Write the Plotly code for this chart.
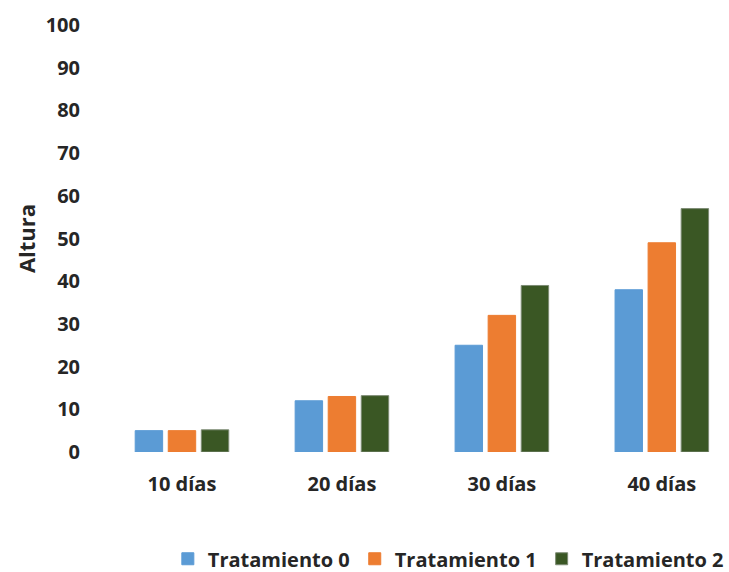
import plotly.graph_objects as go

# Plant height by days after planting, for three treatments
dias = ["10 días", "20 días", "30 días", "40 días"]
tratamiento_0 = [5, 12, 25, 38]
tratamiento_1 = [5, 13, 32, 49]
tratamiento_2 = [5.2, 13.2, 39, 57]
y_ticks = list(range(0, 101, 10))

series = [
    ("Tratamiento 0", tratamiento_0, "#5B9BD5", "#5B9BD5"),
    ("Tratamiento 1", tratamiento_1, "#ED7D31", "#ED7D31"),
    ("Tratamiento 2", tratamiento_2, "#3A5724", "#7d8b74"),
]

font_family = "Open Sans, Noto Sans, Arial, sans-serif"
text_color = "#262626"

fig = go.Figure()
for name, values, color, edge in series:
    fig.add_trace(go.Bar(
        x=dias, y=values, name=name,
        marker=dict(color=color, line=dict(color=edge, width=1)),
    ))

fig.update_layout(
    width=729, height=572,
    margin=dict(l=102, r=0, t=25, b=120, autoexpand=False),
    paper_bgcolor="white", plot_bgcolor="white",
    barmode="group", bargap=0.38, bargroupgap=0.17,
    font=dict(family=font_family, size=20, color=text_color),
    showlegend=True,
    legend=dict(
        orientation="h", x=0.105, xanchor="left", y=-0.25, yanchor="middle",
        font=dict(size=20, color=text_color, weight="bold"),
        traceorder="normal",
    ),
)

fig.update_xaxes(
    range=[-0.5, 3.42], showgrid=False, showline=False, zeroline=False,
    ticks="", ticklabelstandoff=18,
    tickfont=dict(size=20, color=text_color, weight="bold"),
)
fig.update_yaxes(
    range=[0, 100], tickvals=y_ticks, showgrid=False, showline=False,
    zeroline=False, ticks="", ticklabelstandoff=21,
    tickfont=dict(size=20, color=text_color, weight="bold"),
    title=dict(text="Altura", standoff=3,
               font=dict(size=22, color=text_color, weight="bold")),
)

fig.write_html("out.html")
